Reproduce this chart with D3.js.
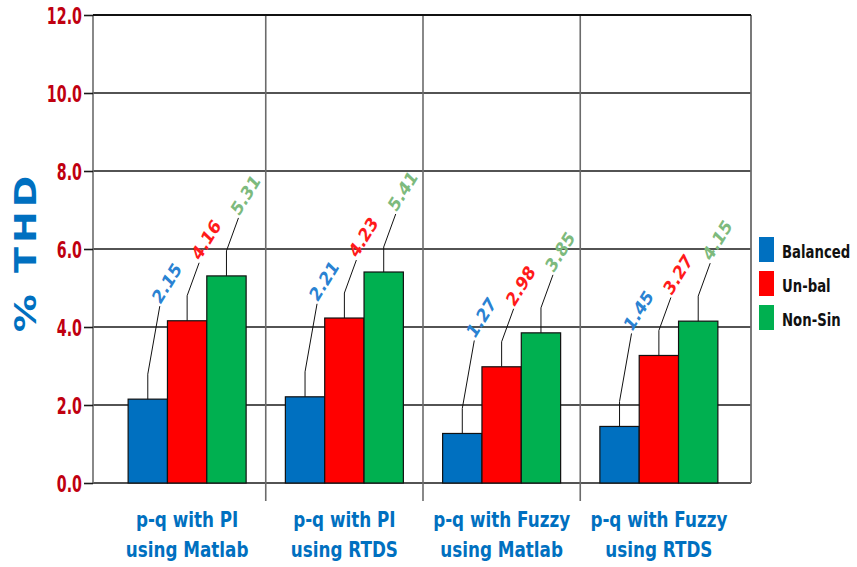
<!DOCTYPE html>
<html>
<head>
<meta charset="utf-8">
<script src="https://cdn.jsdelivr.net/npm/d3@7"></script>
<style>
  html, body { margin: 0; padding: 0; background: #fff; }
  svg { display: block; }
  text { font-family: "DejaVu Sans", Verdana, sans-serif; font-weight: bold; }
</style>
</head>
<body>
<svg id="chart" width="857" height="567"></svg>
<script>
// ---- data ----
const categories = ["p-q with PI|using Matlab", "p-q with PI|using RTDS", "p-q with Fuzzy|using Matlab", "p-q with Fuzzy|using RTDS"];
const seriesNames = ["Balanced", "Un-bal", "Non-Sin"];
const balanced = [2.15, 2.21, 1.27, 1.45];
const unbal = [4.16, 4.23, 2.98, 3.27];
const nonSin = [5.31, 5.41, 3.85, 4.15];
const yTicks = [0, 2, 4, 6, 8, 10, 12];
const yTitle = "% THD";

// ---- styles ----
const barColors = ["#0070c0", "#ff0000", "#00b050"];
const labelColors = ["#2a82d2", "#ff1a1a", "#7dba7d"];
const leaderDiag = [68, 33, 33];

const seriesValues = [balanced, unbal, nonSin];

const svg = d3.select("#chart");
const frame = { left: 93, right: 751, top: 15, bottom: 483 };

const y = d3.scaleLinear().domain([0, 12]).range([frame.bottom, frame.top]);
const x0 = d3.scaleBand().domain(categories).range([108.5, 737.5]);
const x1 = d3.scaleBand().domain(seriesNames).range([0, 118]);
const groupOffset = (x0.bandwidth() - 118) / 2;

// horizontal gridlines
svg.append("g").selectAll("line").data(yTicks).join("line")
  .attr("x1", frame.left).attr("x2", frame.right)
  .attr("y1", d => y(d)).attr("y2", d => y(d))
  .attr("stroke", "#1a1a1a").attr("stroke-width", 1.6);

// vertical separators between categories
const seps = categories.slice(1).map(c => x0(c));
svg.append("g").selectAll("line").data(seps).join("line")
  .attr("x1", d => d).attr("x2", d => d)
  .attr("y1", frame.top).attr("y2", frame.bottom + 18)
  .attr("stroke", "#6b6b6b").attr("stroke-width", 1.6);

// left & right frame
svg.append("line").attr("x1", frame.left).attr("x2", frame.left)
  .attr("y1", frame.top).attr("y2", frame.bottom)
  .attr("stroke", "#6b6b6b").attr("stroke-width", 1.6);
svg.append("line").attr("x1", frame.right).attr("x2", frame.right)
  .attr("y1", frame.top).attr("y2", frame.bottom)
  .attr("stroke", "#6b6b6b").attr("stroke-width", 1.8);

// y axis (ticks + labels)
const yAxis = d3.axisLeft(y).tickValues(yTicks).tickFormat(d3.format(".1f")).tickSize(9);
const yg = svg.append("g").attr("transform", `translate(${frame.left},0)`).call(yAxis);
yg.select(".domain").remove();
yg.selectAll(".tick line").attr("stroke", "#1a1a1a").attr("stroke-width", 1.6);
yg.selectAll(".tick text")
  .attr("x", null).attr("dy", null)
  .attr("transform", "translate(-11,8) scale(0.62,1)")
  .attr("text-anchor", "end")
  .attr("fill", "#c00010")
  .style("font-size", "23px")
  .style("font-family", "'DejaVu Sans', Verdana, sans-serif")
  .style("font-weight", "bold");

// bars
const groups = svg.append("g").selectAll("g").data(categories).join("g")
  .attr("transform", c => `translate(${x0(c) + groupOffset},0)`);

groups.each(function (c, ci) {
  const g = d3.select(this);
  seriesNames.forEach((s, si) => {
    const v = seriesValues[si][ci];
    const bx = x1(s);
    const bw = x1.bandwidth();
    g.append("rect")
      .attr("x", bx).attr("width", bw)
      .attr("y", y(v)).attr("height", y(0) - y(v))
      .attr("fill", barColors[si])
      .attr("stroke", "#111").attr("stroke-width", 1.2);
    // leader line
    const cx = bx + bw / 2;
    const top = y(v);
    const p1 = top - 25;
    const ex = cx + 12, ey = p1 - leaderDiag[si];
    g.append("polyline")
      .attr("points", `${cx},${top} ${cx},${p1} ${ex},${ey}`)
      .attr("fill", "none").attr("stroke", "#111").attr("stroke-width", 1);
    g.append("text")
      .attr("transform", `translate(${ex + 1},${ey - 2}) rotate(-58)`)
      .attr("fill", labelColors[si])
      .style("font-size", "17px")
      .style("font-style", "italic")
      .text(v.toFixed(2));
  });
});

// top line
svg.append("line").attr("x1", frame.left).attr("x2", frame.right)
  .attr("y1", frame.top).attr("y2", frame.top)
  .attr("stroke", "#111").attr("stroke-width", 1.8);

// x category labels
const xl = svg.append("g").selectAll("g").data(categories).join("g")
  .attr("transform", c => `translate(${x0(c) + x0.bandwidth() / 2},0)`);
xl.each(function (c) {
  const lines = c.split("|");
  lines.forEach((ln, i) => {
    d3.select(this).append("text")
      .attr("transform", `translate(0,${527 + i * 30}) scale(0.8,1)`)
      .attr("text-anchor", "middle")
      .attr("fill", "#0070c0")
      .style("font-size", "21px")
      .text(ln);
  });
});

// y title
svg.append("text")
  .attr("transform", "translate(36,252) scale(0.8,1) rotate(-90)")
  .attr("text-anchor", "middle")
  .attr("fill", "#0070c0")
  .style("font-size", "38px")
  .style("letter-spacing", "4px")
  .text(yTitle);

// legend
const lg = svg.append("g").selectAll("g").data(seriesNames).join("g")
  .attr("transform", (d, i) => `translate(759,${237 + i * 34})`);
lg.append("rect").attr("width", 15).attr("height", 25)
  .attr("fill", (d, i) => barColors[i]);
lg.append("text")
  .attr("transform", "translate(23,21) scale(0.78,1)")
  .attr("fill", "#111")
  .style("font-size", "17px")
  .text(d => d);
</script>
</body>
</html>
